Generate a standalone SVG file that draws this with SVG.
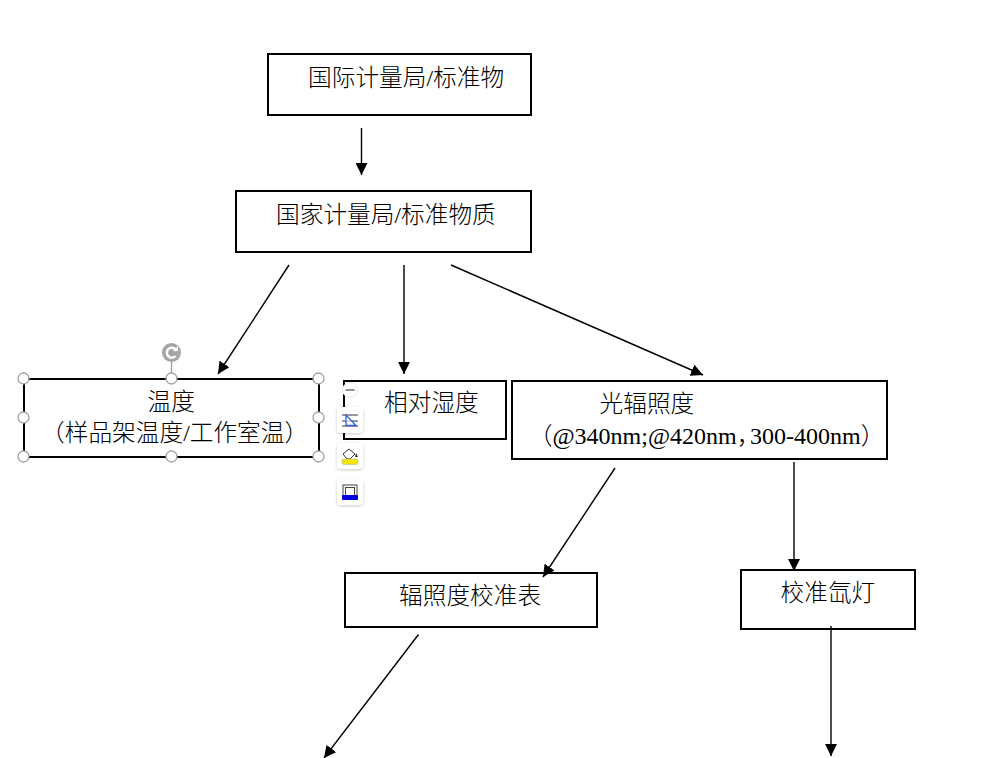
<svg xmlns="http://www.w3.org/2000/svg" width="991" height="758" viewBox="0 0 991 758">
<style>
.box{fill:#fff;stroke:#000;stroke-width:2}
.t{font-family:"Liberation Serif","Noto Sans CJK SC",serif;font-size:23.7px;font-weight:300;fill:#000}
.l{font-size:24px}
.c{fill:none;stroke:#000;stroke-width:1.4;marker-end:url(#a)}
.h{fill:#fff;stroke:#a0a0a0;stroke-width:1.3}
.tb{fill:#fff;filter:url(#s)}
</style>
<defs>
<marker id="a" markerUnits="userSpaceOnUse" markerWidth="13" markerHeight="12" refX="12" refY="6" orient="auto"><path d="M0 0L12 6L0 12Z" fill="#000"/></marker>
<filter id="s" x="-30%" y="-30%" width="160%" height="160%"><feDropShadow dx="0" dy="1" stdDeviation="1.5" flood-color="#000" flood-opacity=".22"/></filter>
</defs>
<rect width="991" height="758" fill="#fff"/>
<g id="n1"><rect class="box" x="268" y="54" width="263" height="61"/><text class="t" x="308" y="86">国际计量局/标准物</text></g>
<g id="n2"><rect class="box" x="236" y="191" width="295" height="61"/><text class="t" x="276" y="223">国家计量局/标准物质</text></g>
<g id="n3"><rect class="box" x="24" y="379" width="295" height="78"/><text class="t" x="147.500" y="410">温度</text><text class="t" x="41" y="441">（样品架温度/工作室温）</text></g>
<g id="n4"><rect class="box" x="344" y="381" width="162" height="58"/><text class="t" x="384" y="411">相对湿度</text></g>
<g id="n5"><rect class="box" x="512" y="381" width="375" height="78"/><text class="t" x="599.500" y="412">光辐照度</text><text class="t l" x="528.500" y="444">（@340nm;@420nm，<tspan x="750">300-400nm）</tspan></text></g>
<g id="n6"><rect class="box" x="345" y="573" width="252" height="54"/><text class="t" x="399" y="604">辐照度校准表</text></g>
<g id="n7"><rect class="box" x="741" y="570" width="174" height="59"/><text class="t" x="780.500" y="601">校准氙灯</text></g>
<g id="connectors">
<path class="c" d="M361.500 128V175"/>
<path class="c" d="M289 265L218 374"/>
<path class="c" d="M404 265V374"/>
<path class="c" d="M451 265L703 375"/>
<path class="c" d="M615 468L543 577"/>
<path class="c" d="M794 462V571"/>
<path class="c" d="M418.500 634.500L324 758"/>
<path class="c" d="M831 626V756"/>
</g>
<g id="selection">
<line x1="171.500" y1="361" x2="171.500" y2="379" stroke="#a0a0a0" stroke-width="1.300"/>
<circle cx="171.500" cy="352.500" r="9.500" fill="#a6a6a6"/>
<path d="M175.500 356A5 5 0 1 1 176.500 351" fill="none" stroke="#fff" stroke-width="2.500"/>
<path d="M173 351H178V346Z" fill="#fff"/>
<circle class="h" cx="23.500" cy="378.500" r="5.500"/><circle class="h" cx="171.500" cy="378.500" r="5.500"/><circle class="h" cx="318.500" cy="378.500" r="5.500"/>
<circle class="h" cx="23.500" cy="417.500" r="5.500"/><circle class="h" cx="318.500" cy="417.500" r="5.500"/>
<circle class="h" cx="23.500" cy="456.500" r="5.500"/><circle class="h" cx="171.500" cy="456.500" r="5.500"/><circle class="h" cx="318.500" cy="456.500" r="5.500"/>
</g>
<g id="toolbar">
<circle cx="350" cy="390" r="7.500" fill="#fff" stroke="#e8e8e8"/>
<line x1="345.500" y1="390" x2="354.500" y2="390" stroke="#909090" stroke-width="2"/>
<rect class="tb" x="337" y="407" width="26" height="26" rx="4"/>
<path d="M342 415H358M342 421H358M342 426H358" stroke="#333" stroke-width="1"/>
<path d="M346 415L356 425.500H346Z" fill="#fff" fill-opacity=".6" stroke="#2b62e0" stroke-width="1.300"/>
<rect class="tb" x="337" y="443" width="26" height="26" rx="4"/>
<path d="M343 454L349 449L355 454L350 459H347Z" fill="#fff" stroke="#333" stroke-width="1"/>
<path d="M356 453L358 457H355Z" fill="#333"/>
<rect x="342" y="459" width="16" height="5.500" rx="2" fill="#f4e800" stroke="#aaa" stroke-width=".5"/>
<rect class="tb" x="337" y="479" width="26" height="26" rx="4"/>
<rect x="343" y="485" width="14" height="12" fill="#fff" stroke="#444" stroke-width="1"/>
<rect x="345.500" y="487.500" width="9" height="9" fill="#fff" stroke="#444" stroke-width="1"/>
<rect x="342" y="495" width="16" height="5" rx="1" fill="#0000dc"/>
</g>
</svg>
